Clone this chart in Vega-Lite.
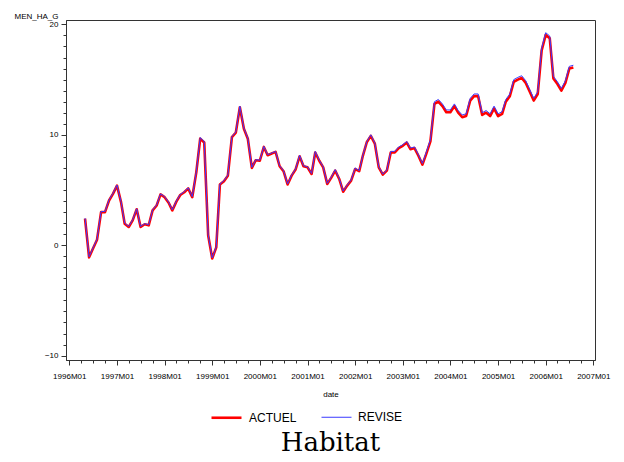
{
  "$schema": "https://vega.github.io/schema/vega-lite/v6.json",
  "width": 529,
  "height": 340,
  "autosize": {"type": "none"},
  "padding": {"left": 66, "top": 20, "right": 29, "bottom": 102},
  "background": "white",
  "title": {"text": "Habitat", "orient": "bottom", "anchor": "middle", "font": "DejaVu Serif", "fontSize": 26, "fontWeight": "normal", "color": "#000", "offset": 6},
  "config": {
    "view": {"stroke": "#333", "strokeWidth": 1},
    "font": "Liberation Sans",
    "axis": {"domainColor": "#333", "tickColor": "#333", "labelColor": "#000", "titleColor": "#000", "grid": false, "labelFont": "Liberation Sans", "titleFont": "Liberation Sans"}
  },
  "data": {"values": [
    {"d": "1996-05-01", "ACTUEL": 2.4, "REVISE": 2.45},
    {"d": "1996-06-01", "ACTUEL": -1.1, "REVISE": -1.05},
    {"d": "1996-07-01", "ACTUEL": -0.3, "REVISE": -0.25},
    {"d": "1996-08-01", "ACTUEL": 0.5, "REVISE": 0.55},
    {"d": "1996-09-01", "ACTUEL": 3.0, "REVISE": 3.05},
    {"d": "1996-10-01", "ACTUEL": 3.0, "REVISE": 3.05},
    {"d": "1996-11-01", "ACTUEL": 4.05, "REVISE": 4.1},
    {"d": "1996-12-01", "ACTUEL": 4.65, "REVISE": 4.7},
    {"d": "1997-01-01", "ACTUEL": 5.4, "REVISE": 5.45},
    {"d": "1997-02-01", "ACTUEL": 3.9, "REVISE": 3.95},
    {"d": "1997-03-01", "ACTUEL": 1.95, "REVISE": 2.0},
    {"d": "1997-04-01", "ACTUEL": 1.65, "REVISE": 1.7},
    {"d": "1997-05-01", "ACTUEL": 2.25, "REVISE": 2.3},
    {"d": "1997-06-01", "ACTUEL": 3.25, "REVISE": 3.3},
    {"d": "1997-07-01", "ACTUEL": 1.65, "REVISE": 1.7},
    {"d": "1997-08-01", "ACTUEL": 1.9, "REVISE": 1.95},
    {"d": "1997-09-01", "ACTUEL": 1.8, "REVISE": 1.85},
    {"d": "1997-10-01", "ACTUEL": 3.15, "REVISE": 3.2},
    {"d": "1997-11-01", "ACTUEL": 3.6, "REVISE": 3.65},
    {"d": "1997-12-01", "ACTUEL": 4.6, "REVISE": 4.65},
    {"d": "1998-01-01", "ACTUEL": 4.35, "REVISE": 4.4},
    {"d": "1998-02-01", "ACTUEL": 3.85, "REVISE": 3.9},
    {"d": "1998-03-01", "ACTUEL": 3.15, "REVISE": 3.2},
    {"d": "1998-04-01", "ACTUEL": 3.95, "REVISE": 4.0},
    {"d": "1998-05-01", "ACTUEL": 4.55, "REVISE": 4.6},
    {"d": "1998-06-01", "ACTUEL": 4.8, "REVISE": 4.85},
    {"d": "1998-07-01", "ACTUEL": 5.15, "REVISE": 5.2},
    {"d": "1998-08-01", "ACTUEL": 4.35, "REVISE": 4.4},
    {"d": "1998-09-01", "ACTUEL": 6.6, "REVISE": 6.65},
    {"d": "1998-10-01", "ACTUEL": 9.65, "REVISE": 9.75},
    {"d": "1998-11-01", "ACTUEL": 9.3, "REVISE": 9.4},
    {"d": "1998-12-01", "ACTUEL": 0.9, "REVISE": 0.95},
    {"d": "1999-01-01", "ACTUEL": -1.2, "REVISE": -1.15},
    {"d": "1999-02-01", "ACTUEL": -0.2, "REVISE": -0.15},
    {"d": "1999-03-01", "ACTUEL": 5.5, "REVISE": 5.55},
    {"d": "1999-04-01", "ACTUEL": 5.8, "REVISE": 5.85},
    {"d": "1999-05-01", "ACTUEL": 6.3, "REVISE": 6.35},
    {"d": "1999-06-01", "ACTUEL": 9.8, "REVISE": 9.85},
    {"d": "1999-07-01", "ACTUEL": 10.2, "REVISE": 10.25},
    {"d": "1999-08-01", "ACTUEL": 12.5, "REVISE": 12.6},
    {"d": "1999-09-01", "ACTUEL": 10.55, "REVISE": 10.6},
    {"d": "1999-10-01", "ACTUEL": 9.65, "REVISE": 9.7},
    {"d": "1999-11-01", "ACTUEL": 7.0, "REVISE": 7.05},
    {"d": "1999-12-01", "ACTUEL": 7.7, "REVISE": 7.75},
    {"d": "2000-01-01", "ACTUEL": 7.65, "REVISE": 7.7},
    {"d": "2000-02-01", "ACTUEL": 8.9, "REVISE": 8.95},
    {"d": "2000-03-01", "ACTUEL": 8.15, "REVISE": 8.2},
    {"d": "2000-04-01", "ACTUEL": 8.3, "REVISE": 8.35},
    {"d": "2000-05-01", "ACTUEL": 8.45, "REVISE": 8.5},
    {"d": "2000-06-01", "ACTUEL": 7.15, "REVISE": 7.2},
    {"d": "2000-07-01", "ACTUEL": 6.7, "REVISE": 6.75},
    {"d": "2000-08-01", "ACTUEL": 5.5, "REVISE": 5.55},
    {"d": "2000-09-01", "ACTUEL": 6.3, "REVISE": 6.35},
    {"d": "2000-10-01", "ACTUEL": 6.85, "REVISE": 6.9},
    {"d": "2000-11-01", "ACTUEL": 8.05, "REVISE": 8.15},
    {"d": "2000-12-01", "ACTUEL": 7.15, "REVISE": 7.2},
    {"d": "2001-01-01", "ACTUEL": 7.05, "REVISE": 7.1},
    {"d": "2001-02-01", "ACTUEL": 6.45, "REVISE": 6.5},
    {"d": "2001-03-01", "ACTUEL": 8.4, "REVISE": 8.5},
    {"d": "2001-04-01", "ACTUEL": 7.65, "REVISE": 7.7},
    {"d": "2001-05-01", "ACTUEL": 7.05, "REVISE": 7.1},
    {"d": "2001-06-01", "ACTUEL": 5.55, "REVISE": 5.6},
    {"d": "2001-07-01", "ACTUEL": 6.1, "REVISE": 6.15},
    {"d": "2001-08-01", "ACTUEL": 6.75, "REVISE": 6.85},
    {"d": "2001-09-01", "ACTUEL": 6.0, "REVISE": 6.05},
    {"d": "2001-10-01", "ACTUEL": 4.85, "REVISE": 4.9},
    {"d": "2001-11-01", "ACTUEL": 5.4, "REVISE": 5.45},
    {"d": "2001-12-01", "ACTUEL": 5.85, "REVISE": 5.9},
    {"d": "2002-01-01", "ACTUEL": 6.9, "REVISE": 7.0},
    {"d": "2002-02-01", "ACTUEL": 6.7, "REVISE": 6.75},
    {"d": "2002-03-01", "ACTUEL": 8.1, "REVISE": 8.15},
    {"d": "2002-04-01", "ACTUEL": 9.35, "REVISE": 9.4},
    {"d": "2002-05-01", "ACTUEL": 9.9, "REVISE": 10.0},
    {"d": "2002-06-01", "ACTUEL": 9.2, "REVISE": 9.25},
    {"d": "2002-07-01", "ACTUEL": 7.05, "REVISE": 7.1},
    {"d": "2002-08-01", "ACTUEL": 6.4, "REVISE": 6.45},
    {"d": "2002-09-01", "ACTUEL": 6.75, "REVISE": 6.8},
    {"d": "2002-10-01", "ACTUEL": 8.4, "REVISE": 8.5},
    {"d": "2002-11-01", "ACTUEL": 8.4, "REVISE": 8.5},
    {"d": "2002-12-01", "ACTUEL": 8.8, "REVISE": 8.9},
    {"d": "2003-01-01", "ACTUEL": 9.0, "REVISE": 9.1},
    {"d": "2003-02-01", "ACTUEL": 9.3, "REVISE": 9.4},
    {"d": "2003-03-01", "ACTUEL": 8.7, "REVISE": 8.8},
    {"d": "2003-04-01", "ACTUEL": 8.8, "REVISE": 8.9},
    {"d": "2003-05-01", "ACTUEL": 8.1, "REVISE": 8.2},
    {"d": "2003-06-01", "ACTUEL": 7.3, "REVISE": 7.4},
    {"d": "2003-07-01", "ACTUEL": 8.3, "REVISE": 8.45},
    {"d": "2003-08-01", "ACTUEL": 9.4, "REVISE": 9.55},
    {"d": "2003-09-01", "ACTUEL": 12.8, "REVISE": 13.0},
    {"d": "2003-10-01", "ACTUEL": 13.0, "REVISE": 13.2},
    {"d": "2003-11-01", "ACTUEL": 12.6, "REVISE": 12.8},
    {"d": "2003-12-01", "ACTUEL": 12.05, "REVISE": 12.25},
    {"d": "2004-01-01", "ACTUEL": 12.05, "REVISE": 12.25},
    {"d": "2004-02-01", "ACTUEL": 12.6, "REVISE": 12.8},
    {"d": "2004-03-01", "ACTUEL": 12.0, "REVISE": 12.2},
    {"d": "2004-04-01", "ACTUEL": 11.6, "REVISE": 11.8},
    {"d": "2004-05-01", "ACTUEL": 11.7, "REVISE": 11.9},
    {"d": "2004-06-01", "ACTUEL": 13.1, "REVISE": 13.3},
    {"d": "2004-07-01", "ACTUEL": 13.5, "REVISE": 13.7},
    {"d": "2004-08-01", "ACTUEL": 13.5, "REVISE": 13.7},
    {"d": "2004-09-01", "ACTUEL": 11.8, "REVISE": 12.0},
    {"d": "2004-10-01", "ACTUEL": 12.0, "REVISE": 12.2},
    {"d": "2004-11-01", "ACTUEL": 11.7, "REVISE": 11.9},
    {"d": "2004-12-01", "ACTUEL": 12.4, "REVISE": 12.6},
    {"d": "2005-01-01", "ACTUEL": 11.7, "REVISE": 11.9},
    {"d": "2005-02-01", "ACTUEL": 11.9, "REVISE": 12.1},
    {"d": "2005-03-01", "ACTUEL": 13.0, "REVISE": 13.2},
    {"d": "2005-04-01", "ACTUEL": 13.5, "REVISE": 13.7},
    {"d": "2005-05-01", "ACTUEL": 14.8, "REVISE": 15.0},
    {"d": "2005-06-01", "ACTUEL": 15.0, "REVISE": 15.2},
    {"d": "2005-07-01", "ACTUEL": 15.15, "REVISE": 15.35},
    {"d": "2005-08-01", "ACTUEL": 14.7, "REVISE": 14.9},
    {"d": "2005-09-01", "ACTUEL": 13.9, "REVISE": 14.1},
    {"d": "2005-10-01", "ACTUEL": 13.1, "REVISE": 13.3},
    {"d": "2005-11-01", "ACTUEL": 13.7, "REVISE": 13.9},
    {"d": "2005-12-01", "ACTUEL": 17.65, "REVISE": 17.85},
    {"d": "2006-01-01", "ACTUEL": 19.05, "REVISE": 19.25},
    {"d": "2006-02-01", "ACTUEL": 18.75, "REVISE": 18.95},
    {"d": "2006-03-01", "ACTUEL": 15.1, "REVISE": 15.3},
    {"d": "2006-04-01", "ACTUEL": 14.6, "REVISE": 14.8},
    {"d": "2006-05-01", "ACTUEL": 14.0, "REVISE": 14.2},
    {"d": "2006-06-01", "ACTUEL": 14.7, "REVISE": 14.9},
    {"d": "2006-07-01", "ACTUEL": 16.0, "REVISE": 16.2},
    {"d": "2006-08-01", "ACTUEL": 16.1, "REVISE": 16.3}
  ]},
  "transform": [{"fold": ["ACTUEL", "REVISE"], "as": ["series", "value"]}],
  "mark": {"type": "line", "strokeJoin": "round"},
  "encoding": {
    "x": {
      "field": "d", "type": "temporal",
      "scale": {"type": "utc", "domain": [{"year": 1995, "month": 12, "date": 7, "utc": true}, {"year": 2007, "month": 1, "date": 14, "utc": true}]},
      "axis": {
        "title": "date",
        "tickCount": {"interval": "month", "step": 3},
        "labelExpr": "utcmonth(datum.value) === 0 ? utcFormat(datum.value, '%YM%m') : ''",
        "tickSize": {"condition": {"test": "utcmonth(datum.value) === 0", "value": 5}, "value": 3},
        "labelFontSize": 8,
        "labelPadding": 7,
        "labelOverlap": false,
        "labelFlush": false,
        "labelBound": false,
        "titleFontSize": 8,
        "titleFontWeight": "normal",
        "titlePadding": 10
      }
    },
    "y": {
      "field": "value", "type": "quantitative",
      "scale": {"domain": [-10.4, 20.4], "nice": false, "zero": false},
      "axis": {
        "title": "MEN_HA_G",
        "values": [-10, -9, -8, -7, -6, -5, -4, -3, -2, -1, 0, 1, 2, 3, 4, 5, 6, 7, 8, 9, 10, 11, 12, 13, 14, 15, 16, 17, 18, 19, 20],
        "labelExpr": "datum.value % 10 === 0 ? datum.label : ''",
        "tickSize": {"condition": {"test": "datum.value % 10 === 0", "value": 5}, "value": 3},
        "labelFontSize": 8,
        "labelPadding": 3,
        "labelOverlap": false,
        "labelFlush": false,
        "labelBound": false,
        "titleAngle": 0,
        "titleAlign": "right",
        "titleBaseline": "alphabetic",
        "titleX": -8,
        "titleY": -2,
        "titleFontSize": 8,
        "titleFontWeight": "normal"
      }
    },
    "color": {
      "field": "series", "type": "nominal",
      "scale": {"domain": ["ACTUEL", "REVISE"], "range": ["#ff0000", "#3a3aff"]},
      "legend": {
        "title": null, "orient": "none", "legendX": 144, "legendY": 381, "direction": "horizontal",
        "symbolType": "stroke", "symbolSize": 900, "labelFontSize": 12, "labelFont": "Liberation Sans",
        "labelColor": "#000", "labelOffset": 6, "columnPadding": 22, "padding": 0
      }
    },
    "strokeWidth": {
      "field": "series", "type": "nominal",
      "scale": {"domain": ["ACTUEL", "REVISE"], "range": [2.6, 1]},
      "legend": {
        "title": null, "orient": "none", "legendX": 144, "legendY": 381, "direction": "horizontal",
        "symbolType": "stroke", "symbolSize": 900, "labelFontSize": 12, "labelFont": "Liberation Sans",
        "labelColor": "#000", "labelOffset": 6, "columnPadding": 22, "padding": 0
      }
    }
  }
}
